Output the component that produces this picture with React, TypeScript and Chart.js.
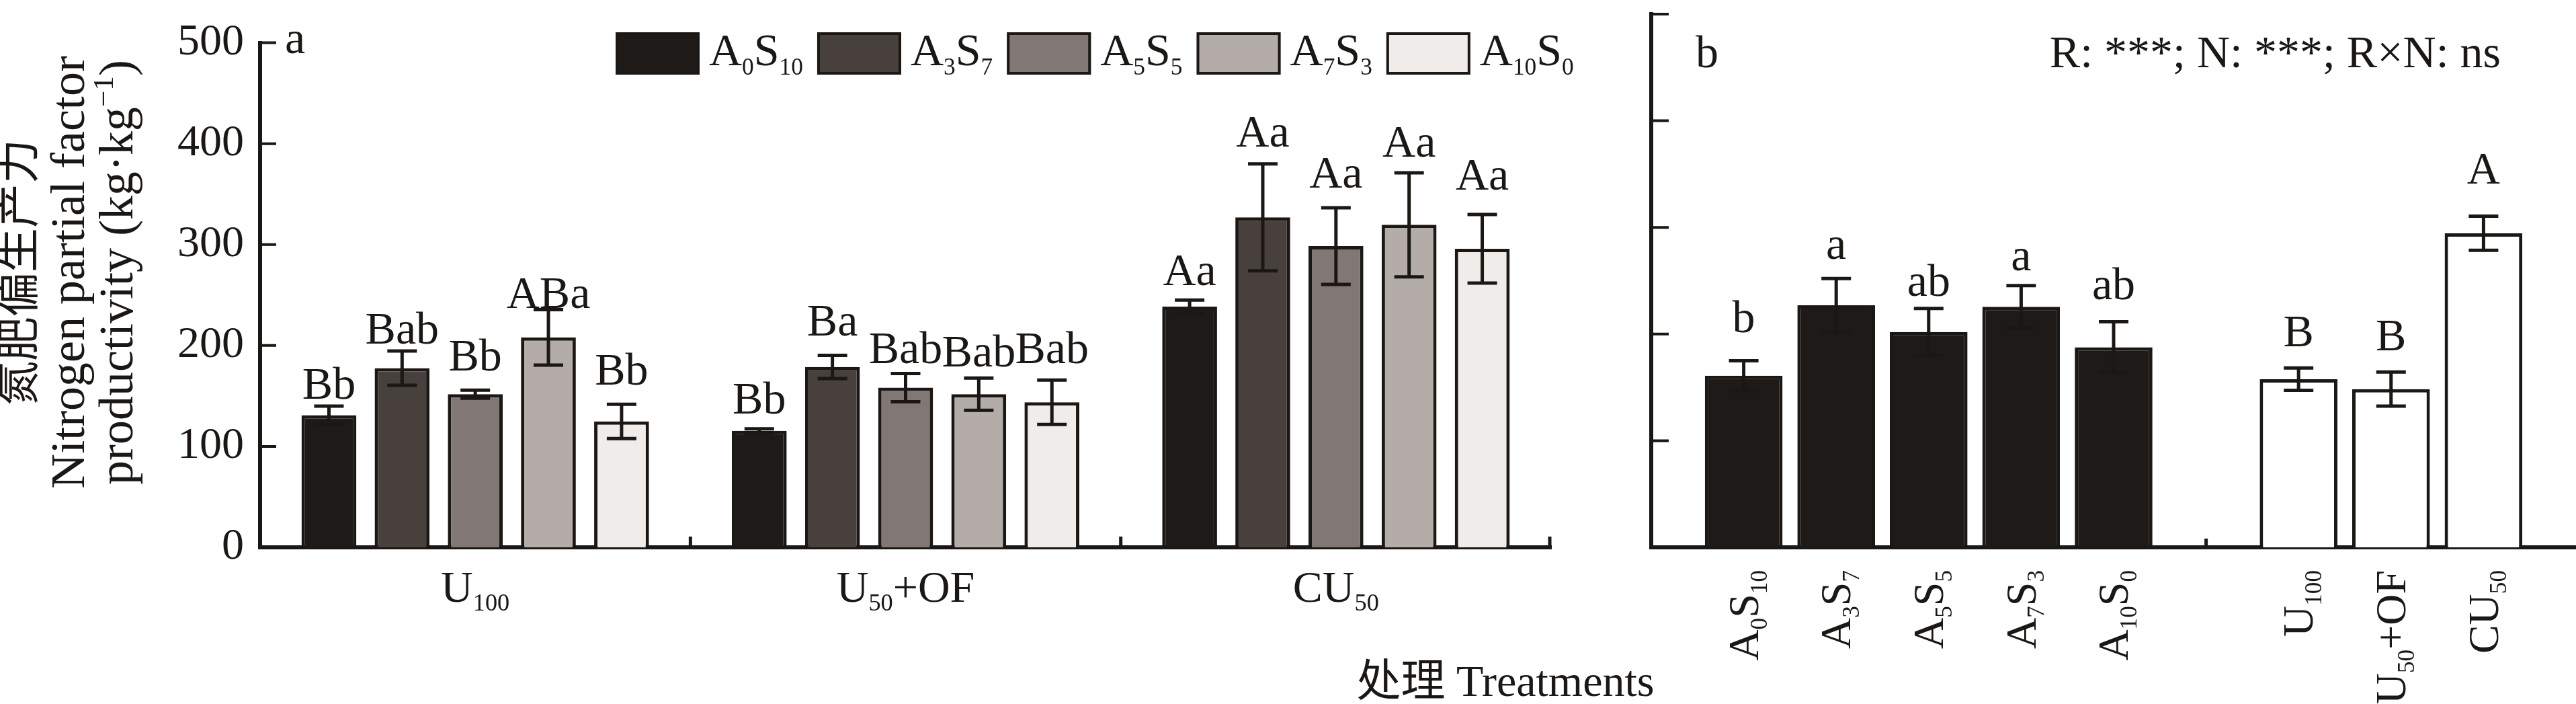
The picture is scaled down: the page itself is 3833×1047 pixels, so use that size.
import React, { useEffect, useRef } from 'react';
import { Chart, registerables } from 'chart.js';

Chart.register(...registerables);

const W = 3833;
const H = 1047;
const FONT = '"Liberation Serif", "Times New Roman", "Noto Sans CJK SC", serif';
const INK = '#1a1714';

// ---------------- panel a ----------------
const groupLabelsA = ['U_{100}', 'U_{50}+OF', 'CU_{50}'];
const ratioNames = ['A_{0}S_{10}', 'A_{3}S_{7}', 'A_{5}S_{5}', 'A_{7}S_{3}', 'A_{10}S_{0}'];
const ratioColors = ['#1d1a17', '#48403c', '#817875', '#b3aca8', '#f0ece9'];

const a0s10Values = [131, 115.5, 238.5];
const a3s7Values = [177.6, 178.8, 327];
const a5s5Values = [151.7, 158.3, 298.5];
const a7s3Values = [208, 151.7, 319.6];
const a10s0Values = [124.8, 143.8, 295.8];

const a0s10Errors = [9, 2, 6.5];
const a3s7Errors = [17, 11.5, 53];
const a5s5Errors = [4, 14, 38];
const a7s3Errors = [27.5, 16, 51.6];
const a10s0Errors = [17, 22, 34];

const a0s10Letters = ['Bb', 'Bb', 'Aa'];
const a3s7Letters = ['Bab', 'Ba', 'Aa'];
const a5s5Letters = ['Bb', 'Bab', 'Aa'];
const a7s3Letters = ['ABa', 'Bab', 'Aa'];
const a10s0Letters = ['Bb', 'Bab', 'Aa'];

// value (y units) where each letter label sits
const a0s10LetterAt = [147.5, 132.4, 259.6];
const a3s7LetterAt = [202, 209.6, 397.4];
const a5s5LetterAt = [175, 182.4, 356.7];
const a7s3LetterAt = [237, 179.4, 386.9];
const a10s0LetterAt = [161.4, 182.4, 354.3];

const yTickValues = [0, 100, 200, 300, 400, 500];
const yTitleCn = '氮肥偏生产力';
const yTitleEn1 = 'Nitrogen partial factor';
const yTitleEn2 = 'productivity (kg·kg^{−1})';
const xTitle = '处理 Treatments';

// ---------------- panel b ----------------
const ratioLabelsB = ['A_{0}S_{10}', 'A_{3}S_{7}', 'A_{5}S_{5}', 'A_{7}S_{3}', 'A_{10}S_{0}'];
const ratioValuesB = [161, 227, 202, 225.5, 187.6];
const ratioErrorsB = [14, 25, 22, 20, 24];
const ratioLettersB = ['b', 'a', 'ab', 'a', 'ab'];
const ratioLetterAtB = [201.8, 270.5, 236, 260, 232.6];

const nitrogenLabelsB = ['U_{100}', 'U_{50}+OF', 'CU_{50}'];
const nitrogenValuesB = [157.7, 148.4, 294.5];
const nitrogenErrorsB = [10.5, 16, 16];
const nitrogenLettersB = ['B', 'B', 'A'];
const nitrogenLetterAtB = [188.5, 185, 341];

const statsNote = 'R: ***; N: ***; R×N: ns';

const seriesA = [
  { values: a0s10Values, errors: a0s10Errors, letters: a0s10Letters, letterAt: a0s10LetterAt },
  { values: a3s7Values, errors: a3s7Errors, letters: a3s7Letters, letterAt: a3s7LetterAt },
  { values: a5s5Values, errors: a5s5Errors, letters: a5s5Letters, letterAt: a5s5LetterAt },
  { values: a7s3Values, errors: a7s3Errors, letters: a7s3Letters, letterAt: a7s3LetterAt },
  { values: a10s0Values, errors: a10s0Errors, letters: a10s0Letters, letterAt: a10s0LetterAt },
];

// ---------------- helpers ----------------
type Seg = { t: string; k: 'n' | 'sub' | 'sup' };
function parseRich(s: string): Seg[] {
  const out: Seg[] = [];
  const re = /([_^])\{([^}]*)\}/g;
  let last = 0;
  let m: RegExpExecArray | null;
  while ((m = re.exec(s))) {
    if (m.index > last) out.push({ t: s.slice(last, m.index), k: 'n' });
    out.push({ t: m[2], k: m[1] === '_' ? 'sub' : 'sup' });
    last = re.lastIndex;
  }
  if (last < s.length) out.push({ t: s.slice(last), k: 'n' });
  return out;
}

function drawRich(
  ctx: CanvasRenderingContext2D,
  s: string,
  x: number,
  y: number,
  size: number,
  align: 'left' | 'center' | 'right',
  ratio = 0.55
) {
  const segs = parseRich(s);
  const parts = segs.map((g) => {
    const sz = g.k === 'n' ? size : size * ratio;
    ctx.font = `${sz}px ${FONT}`;
    return { g, sz, w: ctx.measureText(g.t).width };
  });
  const total = parts.reduce((a, p) => a + p.w, 0);
  let cx = align === 'left' ? x : align === 'center' ? x - total / 2 : x - total;
  ctx.textAlign = 'left';
  ctx.textBaseline = 'alphabetic';
  ctx.fillStyle = INK;
  for (const p of parts) {
    ctx.font = `${p.sz}px ${FONT}`;
    const dy = p.g.k === 'sub' ? size * 0.2 : p.g.k === 'sup' ? -size * 0.4 : 0;
    ctx.fillText(p.g.t, cx, y + dy);
    cx += p.w;
  }
  return total;
}

function drawErrorBar(ctx: CanvasRenderingContext2D, x: number, yScale: any, v: number, e: number) {
  const top = yScale.getPixelForValue(v + e);
  const bot = yScale.getPixelForValue(v - e);
  const cap = 22;
  ctx.save();
  ctx.strokeStyle = INK;
  ctx.lineWidth = 5;
  ctx.lineCap = 'butt';
  ctx.beginPath();
  ctx.moveTo(x, top);
  ctx.lineTo(x, bot);
  ctx.moveTo(x - cap, top);
  ctx.lineTo(x + cap, top);
  ctx.moveTo(x - cap, bot);
  ctx.lineTo(x + cap, bot);
  ctx.stroke();
  ctx.restore();
}

function drawInwardTicks(ctx: CanvasRenderingContext2D, chart: any, len: number) {
  const y = chart.scales.y;
  const left = chart.chartArea.left;
  ctx.save();
  ctx.strokeStyle = INK;
  ctx.lineWidth = 4;
  ctx.beginPath();
  yTickValues.forEach((v) => {
    if (v === 0) return;
    const py = y.getPixelForValue(v);
    ctx.moveTo(left, py);
    ctx.lineTo(left + len, py);
  });
  ctx.stroke();
  ctx.restore();
}

function drawUpTick(ctx: CanvasRenderingContext2D, x: number, yBase: number, len: number) {
  ctx.save();
  ctx.strokeStyle = INK;
  ctx.lineWidth = 5;
  ctx.beginPath();
  ctx.moveTo(x, yBase);
  ctx.lineTo(x, yBase - len);
  ctx.stroke();
  ctx.restore();
}

const LETTER_SIZE = 68;

const decorA = {
  id: 'decorA',
  afterDatasetsDraw(chart: any) {
    const ctx = chart.ctx as CanvasRenderingContext2D;
    const y = chart.scales.y;
    chart.data.datasets.forEach((_ds: any, di: number) => {
      const meta = chart.getDatasetMeta(di);
      const s = seriesA[di];
      meta.data.forEach((bar: any, j: number) => {
        drawErrorBar(ctx, bar.x, y, s.values[j], s.errors[j]);
        ctx.save();
        drawRich(ctx, s.letters[j], bar.x, y.getPixelForValue(s.letterAt[j]), LETTER_SIZE, 'center');
        ctx.restore();
      });
    });
  },
  afterDraw(chart: any) {
    const ctx = chart.ctx as CanvasRenderingContext2D;
    const x = chart.scales.x;
    const area = chart.chartArea;
    drawInwardTicks(ctx, chart, 24);
    // category separator ticks
    const slot = x.getPixelForValue(1) - x.getPixelForValue(0);
    groupLabelsA.forEach((_l, i) => {
      let px = x.getPixelForValue(i) + slot / 2;
      if (i === groupLabelsA.length - 1) px = area.right - 2;
      drawUpTick(ctx, px, area.bottom, 16);
    });
    // category labels
    groupLabelsA.forEach((l, i) => {
      drawRich(ctx, l, x.getPixelForValue(i), 895, 66, 'center');
    });
    // panel label
    drawRich(ctx, 'a', 424, 79, 68, 'left');
    // x title
    drawRich(ctx, xTitle, 2240, 1035, 66, 'center');
    // y title (rotated)
    const cy = 405;
    const lines: [string, number, number][] = [
      [yTitleCn, 50, 66],
      [yTitleEn1, 125, 72],
      [yTitleEn2, 197, 72],
    ];
    lines.forEach(([t, bx, sz]) => {
      ctx.save();
      ctx.translate(bx, cy);
      ctx.rotate(-Math.PI / 2);
      drawRich(ctx, t, 0, 0, sz, 'center', 0.6);
      ctx.restore();
    });
    // legend
    let lx = 916;
    const boxW = 125;
    const boxH = 63;
    const boxY = 48;
    ratioNames.forEach((name, i) => {
      ctx.save();
      ctx.fillStyle = ratioColors[i];
      ctx.fillRect(lx, boxY, boxW, boxH);
      ctx.strokeStyle = INK;
      ctx.lineWidth = 4;
      ctx.strokeRect(lx + 2, boxY + 2, boxW - 4, boxH - 4);
      ctx.restore();
      const tw = drawRich(ctx, name, lx + boxW + 14, 97, 68, 'left', 0.52);
      lx += boxW + 14 + tw + 21;
    });
  },
};

const decorB = {
  id: 'decorB',
  afterDatasetsDraw(chart: any) {
    const ctx = chart.ctx as CanvasRenderingContext2D;
    const y = chart.scales.y;
    const groups = [
      { values: ratioValuesB, errors: ratioErrorsB, letters: ratioLettersB, at: ratioLetterAtB },
      { values: nitrogenValuesB, errors: nitrogenErrorsB, letters: nitrogenLettersB, at: nitrogenLetterAtB },
    ];
    groups.forEach((g, di) => {
      const meta = chart.getDatasetMeta(di);
      meta.data.forEach((bar: any, j: number) => {
        drawErrorBar(ctx, bar.x, y, g.values[j], g.errors[j]);
        drawRich(ctx, g.letters[j], bar.x, y.getPixelForValue(g.at[j]), LETTER_SIZE, 'center');
      });
    });
  },
  afterDraw(chart: any) {
    const ctx = chart.ctx as CanvasRenderingContext2D;
    const x = chart.scales.x;
    const area = chart.chartArea;
    drawInwardTicks(ctx, chart, 26);
    // gap tick between the two factor groups
    drawUpTick(ctx, x.getPixelForValue(ratioLabelsB.length + 1), area.bottom, 13);
    const labels = [ratioLabelsB, nitrogenLabelsB];
    const size = 64;
    labels.forEach((arr, di) => {
      const meta = chart.getDatasetMeta(di);
      meta.data.forEach((bar: any, j: number) => {
        ctx.save();
        ctx.translate(bar.x + size * 0.33, 848);
        ctx.rotate(-Math.PI / 2);
        drawRich(ctx, arr[j], 0, 0, size, 'right', 0.55);
        ctx.restore();
      });
    });
    drawRich(ctx, 'b', 2523, 100, 68, 'left');
    drawRich(ctx, statsNote, 3721, 100, 68, 'right');
  },
};

const axisCommon = {
  grid: { display: false, drawTicks: false },
  border: { display: true, color: INK, width: 6 },
  z: 1,
};

function configA(): any {
  return {
    type: 'bar',
    data: {
      labels: groupLabelsA,
      datasets: seriesA.map((s, i) => ({
        label: ratioNames[i],
        data: s.values,
        backgroundColor: ratioColors[i],
        borderColor: INK,
        borderWidth: 5,
        categoryPercentage: 0.85,
        barPercentage: 0.75,
      })),
    },
    options: {
      responsive: false,
      animation: false,
      events: [],
      layout: { padding: { left: 0, top: 21, right: W - 2308, bottom: 0 } },
      plugins: { legend: { display: false }, tooltip: { enabled: false } },
      scales: {
        x: {
          ...axisCommon,
          ticks: { display: false },
          afterFit: (s: any) => {
            s.height = H - 814;
          },
        },
        y: {
          ...axisCommon,
          min: 0,
          max: 500,
          ticks: {
            stepSize: 100,
            padding: 24,
            color: INK,
            font: { family: FONT, size: 66 },
          },
          afterFit: (s: any) => {
            s.width = 387;
          },
        },
      },
    },
    plugins: [decorA],
  };
}

function configB(): any {
  const gapSlot = 1;
  return {
    type: 'bar',
    data: {
      datasets: [
        {
          label: 'ratio',
          data: ratioValuesB.map((v, i) => ({ x: i + 1, y: v })),
          backgroundColor: '#1d1a17',
          borderColor: INK,
          borderWidth: 5,
          grouped: false,
          categoryPercentage: 1,
          barPercentage: 0.84,
        },
        {
          label: 'nitrogen',
          data: nitrogenValuesB.map((v, i) => ({ x: ratioValuesB.length + 1 + gapSlot + i, y: v })),
          backgroundColor: '#ffffff',
          borderColor: INK,
          borderWidth: 5,
          grouped: false,
          categoryPercentage: 1,
          barPercentage: 0.84,
        },
      ],
    },
    options: {
      responsive: false,
      animation: false,
      events: [],
      layout: { padding: { left: 2400, top: 21, right: 0, bottom: 0 } },
      plugins: { legend: { display: false }, tooltip: { enabled: false } },
      scales: {
        x: {
          ...axisCommon,
          type: 'linear',
          offset: false,
          min: 0,
          max: 10,
          ticks: { display: false, stepSize: 1 },
          afterFit: (s: any) => {
            s.height = H - 814;
          },
        },
        y: {
          ...axisCommon,
          min: 0,
          max: 500,
          ticks: { display: false, stepSize: 100 },
          afterFit: (s: any) => {
            s.width = 57;
          },
        },
      },
    },
    plugins: [decorB],
  };
}

export default function App() {
  const refA = useRef<HTMLCanvasElement>(null);
  const refB = useRef<HTMLCanvasElement>(null);
  useEffect(() => {
    document.body.style.margin = '0';
    document.body.style.overflow = 'hidden';
    const ca = new Chart(refA.current as HTMLCanvasElement, configA());
    const cb = new Chart(refB.current as HTMLCanvasElement, configB());
    return () => {
      ca.destroy();
      cb.destroy();
    };
  }, []);
  const cs: React.CSSProperties = { position: 'absolute', left: 0, top: 0, width: W, height: H };
  return (
    <div style={{ position: 'relative', width: W, height: H, background: '#ffffff', overflow: 'hidden' }}>
      <canvas ref={refA} width={W} height={H} style={cs} />
      <canvas ref={refB} width={W} height={H} style={cs} />
    </div>
  );
}
